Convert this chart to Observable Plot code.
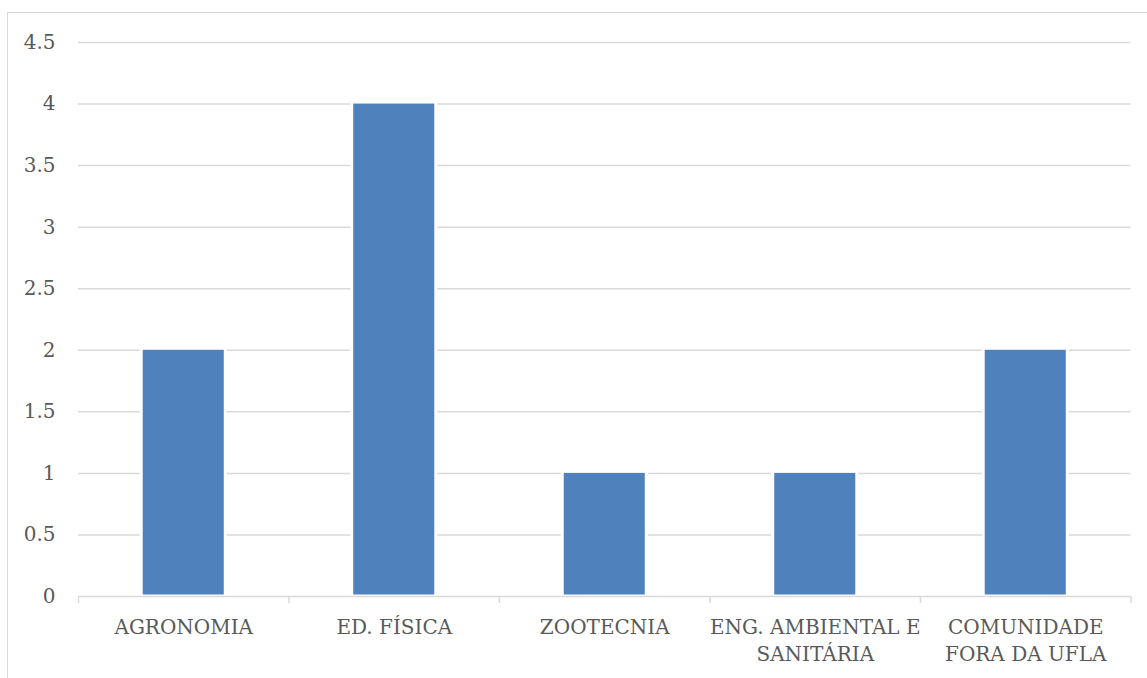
<!DOCTYPE html>
<html>
<head>
<meta charset="utf-8">
<script src="https://cdn.jsdelivr.net/npm/d3@7"></script>
<script src="https://cdn.jsdelivr.net/npm/@observablehq/plot@0.6"></script>
<style>
  html, body { margin: 0; padding: 0; background: #fff; }
  #wrap { position: relative; width: 1147px; height: 678px; overflow: hidden; }
  #frame { position: absolute; left: 7px; top: 12px; width: 1300px; height: 800px;
           border-left: 1.5px solid #d9d9d9; border-top: 1.5px solid #d9d9d9; }
  #chart { position: absolute; left: 0; top: 0; }
</style>
</head>
<body>
<div id="wrap"><div id="frame"></div><div id="chart"></div></div>
<script>
// Participants by course
const categories = ["AGRONOMIA", "ED. FÍSICA", "ZOOTECNIA", "ENG. AMBIENTAL E\nSANITÁRIA", "COMUNIDADE\nFORA DA UFLA"];
const values = [2, 4, 1, 1, 2];
const yTicks = [0, 0.5, 1, 1.5, 2, 2.5, 3, 3.5, 4, 4.5];

const rows = categories.map((c, i) => ({ i, label: c, value: values[i] }));
const half = 0.1925; // half bar width in category units
const font = "DejaVu Serif";
const textColor = "#595959";
const grid = "#d9d9d9";

const chart = Plot.plot({
  width: 1147,
  height: 678,
  marginLeft: 78,
  marginRight: 16.5,
  marginTop: 42,
  marginBottom: 82,
  style: { fontFamily: font, fontSize: "20px", color: textColor, background: "transparent" },
  x: { type: "linear", domain: [0, categories.length] },
  y: { domain: [0, 4.5] },
  marks: [
    Plot.ruleY(yTicks.filter(d => d > 0), { stroke: grid, strokeWidth: 1.5 }),
    Plot.axisY({ ticks: yTicks, tickSize: 0, tickPadding: 23, tickFormat: d => String(d),
                 fontSize: 20, fill: textColor, label: null }),
    Plot.rectY(rows, { x1: d => d.i + 0.5 - half, x2: d => d.i + 0.5 + half, y1: 0, y2: "value",
                       fill: "#4f81bd", stroke: "#ffffff", strokeWidth: 3,
                       insetLeft: -1.5, insetRight: -1.5, insetTop: -1.5 }),
    Plot.ruleY([0], { stroke: grid, strokeWidth: 1.5 }),
    Plot.axisX({ ticks: d3.range(categories.length + 1), tickSize: 7, text: null,
                 stroke: grid, strokeWidth: 1.5, label: null }),
    Plot.text(rows, { x: d => d.i + 0.5, y: 0, text: "label", lineAnchor: "top", dy: 18.5,
                      lineHeight: 1.35, fontSize: 20, fill: textColor, textAnchor: "middle" })
  ]
});
document.getElementById("chart").appendChild(chart);
</script>
</body>
</html>
